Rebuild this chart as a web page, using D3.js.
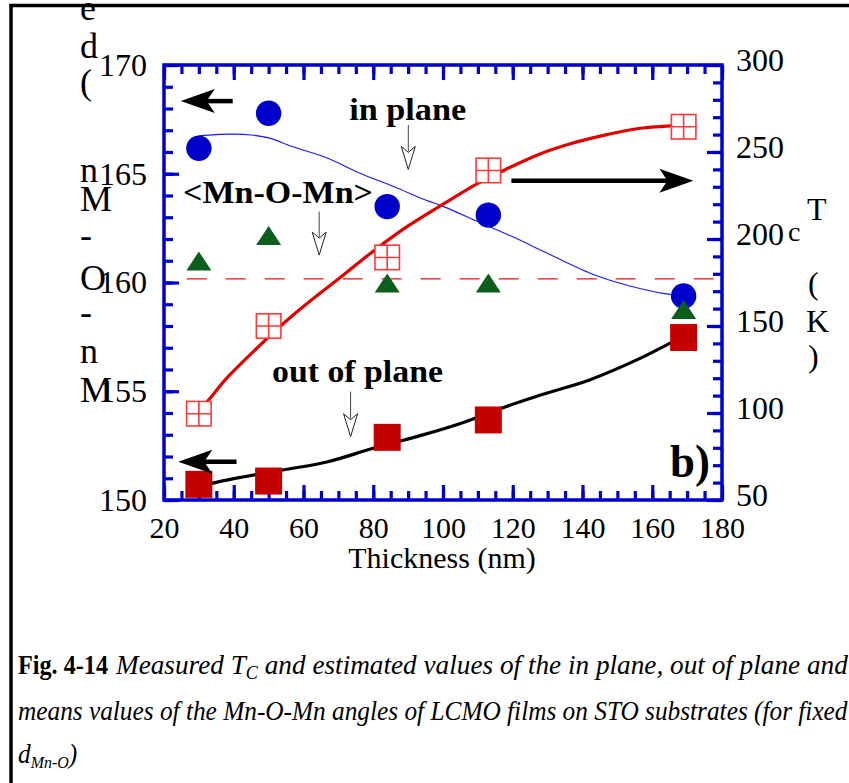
<!DOCTYPE html>
<html>
<head>
<meta charset="utf-8">
<script src="https://cdn.jsdelivr.net/npm/d3@7"></script>
<style>
  html, body { margin: 0; padding: 0; background: #fff; }
  svg { display: block; font-family: "Liberation Serif", "Times New Roman", serif; }
</style>
</head>
<body>
<svg id="chart" width="849" height="783"></svg>
<script>
// ---- measured samples: LCMO films on STO ----
const thickness       = [30, 50, 84, 113, 169];            // nm
const inPlaneAngle    = [166.17, 167.78, 163.49, 163.1, 159.38];   // deg
const meanAngle       = [160.99, 162.16, 159.98, 159.98, 158.76];  // deg
const outOfPlaneAngle = [150.72, 150.87, 152.88, 153.68, 157.47];  // deg
const curieTemp       = [99.6, 150, 189.4, 239.4, 264.5];          // K
const bulkAngle       = 160.17;                                    // dashed reference
const bulkLineFrom    = 26.5;

// ---- guide-to-the-eye curves ----
const inPlaneFitX  = [30, 35, 40, 45, 50, 57, 67, 76, 86, 95, 100, 110, 120, 128, 135, 142, 150, 157, 163, 169];
const inPlaneFitY  = [166.75, 166.8, 166.82, 166.78, 166.65, 166.24, 165.71, 165.03, 164.4, 163.79, 163.5, 162.8, 162.1, 161.49, 160.95, 160.44, 160.0, 159.7, 159.5, 159.38];
const tcFitX       = [30, 33, 38, 46, 54, 62, 70, 80, 90, 100, 110, 118, 128, 137, 147, 156, 165, 169];
const tcFitY       = [101, 108, 120, 136, 151, 164.5, 177, 193, 207.5, 220, 232, 240, 249, 255, 260, 263.5, 265, 265.5];
const outFitX      = [32, 40, 54, 67, 80, 95, 105, 118, 128, 142, 156.5, 165, 169];
const outFitY      = [150.7, 150.98, 151.38, 151.76, 152.38, 153.03, 153.52, 154.29, 154.83, 155.52, 156.51, 157.2, 157.5];

// ---- axes ----
const xDomain     = [20, 180];
const angleDomain = [150, 170];
const tcDomain    = [50, 300];
const xMajorTicks     = d3.range(20, 181, 20);
const xMinorTicks     = d3.range(20, 181, 5);
const angleMajorTicks = d3.range(150, 171, 5);
const angleMinorTicks = d3.range(150, 171, 1);
const tcMajorTicks    = d3.range(50, 301, 50);
const tcMinorTicks    = d3.range(50, 301, 10);
const xTitle = "Thickness (nm)";
// stacked glyphs of the left title, with their baselines
const angleTitleGlyphs = [["e", 20], ["d", 58], ["(", 94], ["n", 182], ["M", 211], ["-", 247], ["O", 290], ["-", 324], ["n", 363], ["M", 402]];

const svg = d3.select("#chart");
const frame = { left: 164, right: 722, top: 65, bottom: 500 };
const blue = "#0000cc";

const x = d3.scaleLinear().domain(xDomain).range([frame.left, frame.right]);
const yA = d3.scaleLinear().domain(angleDomain).range([frame.bottom, frame.top]);
const yT = d3.scaleLinear().domain(tcDomain).range([frame.bottom, frame.top]);

// page border
svg.append("path")
  .attr("d", "M11,783V5.5H849")
  .attr("fill", "none").attr("stroke", "#000").attr("stroke-width", 3.5);

function addAxis(axis, tx, ty, fontSize, dy) {
  const g = svg.append("g")
    .attr("transform", `translate(${tx},${ty})`)
    .style("color", blue)
    .call(axis);
  g.select(".domain").remove();
  g.selectAll(".tick line").attr("stroke-width", 3.2);
  g.selectAll("text")
    .attr("fill", "#000")
    .style("font-family", '"Liberation Serif", "Times New Roman", serif')
    .style("font-size", fontSize + "px");
  if (dy !== undefined) g.selectAll("text").attr("dy", dy);
  return g;
}
const none = () => "";

// bottom & top
addAxis(d3.axisBottom(x).tickValues(xMinorTicks).tickSize(-9).tickFormat(none), 0, frame.bottom, 30);
addAxis(d3.axisBottom(x).tickValues(xMajorTicks).tickSize(-15).tickPadding(17).tickFormat(d3.format("d")), 0, frame.bottom, 30);
addAxis(d3.axisTop(x).tickValues(xMinorTicks).tickSize(-9).tickFormat(none), 0, frame.top, 30);
addAxis(d3.axisTop(x).tickValues(xMajorTicks).tickSize(-15).tickFormat(none), 0, frame.top, 30);
// right (Tc)
addAxis(d3.axisRight(yT).tickValues(tcMinorTicks).tickSize(-9).tickFormat(none), frame.right, 0, 32);
addAxis(d3.axisRight(yT).tickValues(tcMajorTicks).tickSize(-15).tickPadding(14).tickFormat(d3.format("d")), frame.right, 0, 32, "0.17em");
// left (angle)
addAxis(d3.axisLeft(yA).tickValues(angleMinorTicks).tickSize(-9).tickFormat(none), frame.left, 0, 32);
addAxis(d3.axisLeft(yA).tickValues(angleMajorTicks).tickSize(-15).tickPadding(17).tickFormat(d3.format("d")), frame.left, 0, 32);

// plot frame
svg.append("rect")
  .attr("x", frame.left).attr("y", frame.top)
  .attr("width", frame.right - frame.left).attr("height", frame.bottom - frame.top)
  .attr("fill", "none").attr("stroke", blue).attr("stroke-width", 3.5);

// axis titles
svg.append("text")
  .attr("x", x((xDomain[0] + xDomain[1]) / 2) - 1).attr("y", 568)
  .attr("text-anchor", "middle").style("font-size", "30px")
  .text(xTitle);

svg.append("g").selectAll("text").data(angleTitleGlyphs).join("text")
  .attr("x", 80).attr("y", d => d[1])
  .style("font-size", "36px")
  .text(d => d[0]);

const tcTitle = svg.append("g").style("font-size", "32px");
tcTitle.append("text").attr("x", 807).attr("y", 220).text("T");
tcTitle.append("text").attr("x", 788).attr("y", 241).style("font-size", "28px").text("c");
tcTitle.append("text").attr("x", 808).attr("y", 294).text("(");
tcTitle.append("text").attr("x", 806).attr("y", 332).text("K");
tcTitle.append("text").attr("x", 808).attr("y", 367).text(")");

// dashed reference line
svg.append("line")
  .attr("x1", x(bulkLineFrom)).attr("x2", x(xDomain[1]))
  .attr("y1", yA(bulkAngle)).attr("y2", yA(bulkAngle))
  .attr("stroke", "#e8151b").attr("stroke-width", 1.2)
  .attr("stroke-dasharray", "20,19");

// fitted curves
const fitLine = (xs, ys, yScale) =>
  d3.line().curve(d3.curveCatmullRom.alpha(0.5))
    .x((d, i) => x(xs[i])).y(d => yScale(d))(ys);

svg.append("path").attr("d", fitLine(inPlaneFitX, inPlaneFitY, yA))
  .attr("fill", "none").attr("stroke", "#1a1aff").attr("stroke-width", 1.1);
svg.append("path").attr("d", fitLine(tcFitX, tcFitY, yT))
  .attr("fill", "none").attr("stroke", "#e00000").attr("stroke-width", 3.2);
svg.append("path").attr("d", fitLine(outFitX, outFitY, yA))
  .attr("fill", "none").attr("stroke", "#000").attr("stroke-width", 3.2);

// markers
svg.append("g").selectAll("circle").data(inPlaneAngle).join("circle")
  .attr("cx", (d, i) => x(thickness[i])).attr("cy", d => yA(d))
  .attr("r", 12.7).attr("fill", blue);

svg.append("g").selectAll("path").data(meanAngle).join("path")
  .attr("transform", (d, i) => `translate(${x(thickness[i])},${yA(d)})`)
  .attr("d", "M0,-9.5L12.5,9.5L-12.5,9.5Z")
  .attr("fill", "#0b5e1b");

const sq = 27;
svg.append("g").selectAll("rect").data(outOfPlaneAngle).join("rect")
  .attr("x", (d, i) => x(thickness[i]) - sq / 2).attr("y", d => yA(d) - sq / 2)
  .attr("width", sq).attr("height", sq).attr("fill", "#c40000");

const osq = 24.5;
const tcMarks = svg.append("g").selectAll("g").data(curieTemp).join("g")
  .attr("transform", (d, i) => `translate(${x(thickness[i])},${yT(d)})`);
tcMarks.append("rect")
  .attr("x", -osq / 2).attr("y", -osq / 2).attr("width", osq).attr("height", osq)
  .attr("fill", "#fff").attr("stroke", "#ff3838").attr("stroke-width", 1.6);
tcMarks.append("path")
  .attr("d", `M0,${-osq / 2}V${osq / 2}M${-osq / 2},0H${osq / 2}`)
  .attr("stroke", "#ff3838").attr("stroke-width", 1.6);

// solid direction arrows (which axis a series belongs to)
function solidArrow(xFrom, xTip, yPix) {
  const x0 = x(xFrom), x1 = x(xTip), s = Math.sign(x1 - x0);
  const g = svg.append("g").attr("fill", "#000");
  g.append("line").attr("x1", x0).attr("x2", x1 - s * 24).attr("y1", yPix).attr("y2", yPix)
    .attr("stroke", "#000").attr("stroke-width", 4.5);
  g.append("path").attr("d",
    `M${x1},${yPix}L${x1 - s * 34},${yPix - 12}L${x1 - s * 26},${yPix}L${x1 - s * 34},${yPix + 12}Z`);
}
solidArrow(39.7, 24.8, yA(168.34));
solidArrow(40.8, 24.1, yA(151.76));
solidArrow(119.6, 171.8, yA(164.68));

// hollow pointer arrows under the labels
function hollowArrow(xv, yFrom, yTip) {
  const px = x(xv), y0 = yA(yFrom), y1 = yA(yTip);
  svg.append("line").attr("x1", px).attr("x2", px).attr("y1", y0).attr("y2", y1 - 18)
    .attr("stroke", "#444").attr("stroke-width", 1);
  svg.append("path").attr("d", `M${px},${y1}L${px - 7},${y1 - 23}L${px},${y1 - 17}L${px + 7},${y1 - 23}Z`)
    .attr("fill", "#fff").attr("stroke", "#222").attr("stroke-width", 1);
}
hollowArrow(90.05, 167.24, 165.2);
hollowArrow(64.5, 163.26, 161.26);
hollowArrow(73.5, 154.98, 152.91);

// series labels
function label(txt, xv, yv, size, width) {
  svg.append("text")
    .attr("x", x(xv)).attr("y", yA(yv))
    .style("font-size", size + "px").style("font-weight", "bold")
    .attr("textLength", width).attr("lengthAdjust", "spacingAndGlyphs")
    .text(txt);
}
label("in plane", 73.1, 167.47, 31, 117);
label("<Mn-O-Mn>", 25.45, 163.66, 31, 190);
label("out of plane", 50.97, 155.43, 31, 171);
label("b)", 165.1, 151.06, 46, 40);

// caption (condensed serif italic)
const captionLeft = 18, captionRight = 848, italicLeft = 116;
function squeeze(t, x0, x1) {
  const s = (x1 - x0) / t.node().getComputedTextLength();
  t.attr("transform", `translate(${x0},0) scale(${s},1) translate(${-x0},0)`);
  return s;
}
svg.append("text").attr("x", captionLeft).attr("y", 674)
  .style("font-size", "28px").style("font-weight", "bold")
  .attr("textLength", italicLeft - captionLeft - 8).attr("lengthAdjust", "spacingAndGlyphs")
  .text("Fig. 4-14");

const cap1 = svg.append("text").attr("x", italicLeft).attr("y", 674)
  .style("font-size", "27px").style("font-style", "italic");
cap1.append("tspan").text("Measured T");
cap1.append("tspan").attr("dy", 5).style("font-size", "18px").text("C");
cap1.append("tspan").attr("dy", -5).text("  and estimated values of the in plane, out of plane and");
squeeze(cap1, italicLeft, captionRight);

const cap2 = svg.append("text").attr("x", captionLeft).attr("y", 720)
  .style("font-size", "27px").style("font-style", "italic")
  .text("means values of the Mn-O-Mn angles of LCMO films on STO substrates (for fixed");
const s2 = squeeze(cap2, captionLeft, captionRight);

const cap3 = svg.append("text").attr("x", captionLeft).attr("y", 763)
  .style("font-size", "27px").style("font-style", "italic");
cap3.append("tspan").text("d");
cap3.append("tspan").attr("dy", 5).style("font-size", "17px").text("Mn-O");
cap3.append("tspan").attr("dy", -5).text(")");
cap3.attr("transform", `translate(${captionLeft},0) scale(${s2},1) translate(${-captionLeft},0)`);
</script>
</body>
</html>
